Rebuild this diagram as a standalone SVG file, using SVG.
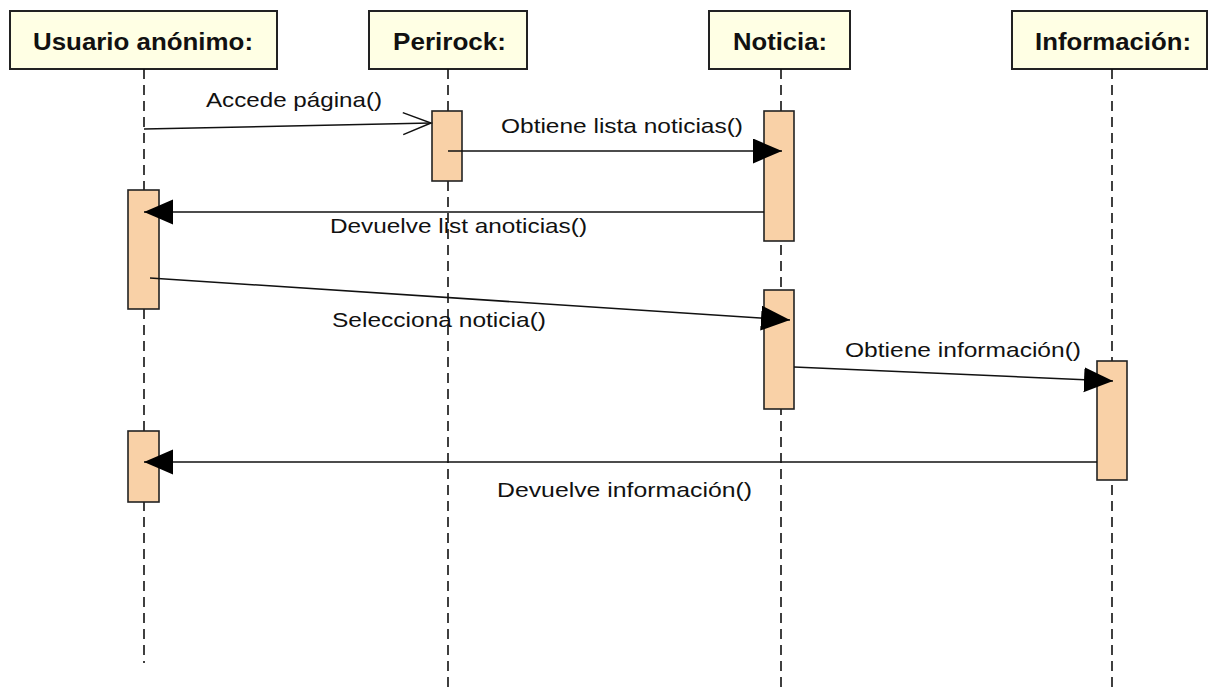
<svg xmlns="http://www.w3.org/2000/svg" width="1209" height="687" viewBox="0 0 1209 687">
<style>
.hdr{fill:#FFFFE4;stroke:#222;stroke-width:2}
.ht{font-family:"Liberation Sans",Arial,sans-serif;font-weight:bold;font-size:23px;fill:#111}
.life{stroke:#111;stroke-width:1.6;stroke-dasharray:10 6;fill:none}
.act{fill:#F9D1A7;stroke:#222;stroke-width:1.6}
.msg{stroke:#111;stroke-width:1.5;fill:none}
.lbl{font-family:"Liberation Sans",Arial,sans-serif;font-size:21px;fill:#111}
</style>
<defs>
<marker id="fill" markerUnits="userSpaceOnUse" markerWidth="30" markerHeight="26" refX="29" refY="12.5" orient="auto">
<path d="M0,0 L29,12.5 L0,25 Z" fill="#000"/>
</marker>
<marker id="open" markerUnits="userSpaceOnUse" markerWidth="32" markerHeight="28" refX="29" refY="12" orient="auto">
<path d="M1,1 L29,12 L1,23" fill="none" stroke="#111" stroke-width="1.5"/>
</marker>
</defs>
<rect width="1209" height="687" fill="#fff"/>

<g id="usuario">
<rect class="hdr" x="10" y="11" width="267" height="58"/>
<text class="ht" x="33" y="50" textLength="220" lengthAdjust="spacingAndGlyphs">Usuario anónimo:</text>
<line class="life" x1="144" y1="69" x2="144" y2="663"/>
<rect class="act" x="128" y="190" width="31" height="119"/>
<rect class="act" x="128" y="431" width="31" height="71"/>
</g>

<g id="perirock">
<rect class="hdr" x="369" y="11" width="158" height="58"/>
<text class="ht" x="393" y="50" textLength="113" lengthAdjust="spacingAndGlyphs">Perirock:</text>
<line class="life" x1="448" y1="69" x2="448" y2="687"/>
<rect class="act" x="432" y="111" width="30" height="70"/>
</g>

<g id="noticia">
<rect class="hdr" x="709" y="11" width="141" height="58"/>
<text class="ht" x="733" y="50" textLength="94" lengthAdjust="spacingAndGlyphs">Noticia:</text>
<line class="life" x1="781" y1="69" x2="781" y2="687"/>
<rect class="act" x="764" y="111" width="30" height="130"/>
<rect class="act" x="764" y="290" width="30" height="119"/>
</g>

<g id="informacion">
<rect class="hdr" x="1012" y="11" width="195" height="58"/>
<text class="ht" x="1035" y="50" textLength="156" lengthAdjust="spacingAndGlyphs">Información:</text>
<line class="life" x1="1112" y1="69" x2="1112" y2="687"/>
<rect class="act" x="1097" y="361" width="30" height="119"/>
</g>

<g id="connectors">
<line class="msg" x1="144" y1="129" x2="431" y2="123" marker-end="url(#open)"/>
<line class="msg" x1="448" y1="151" x2="782" y2="151" marker-end="url(#fill)"/>
<line class="msg" x1="764" y1="212" x2="144" y2="212" marker-end="url(#fill)"/>
<line class="msg" x1="150" y1="278" x2="790" y2="320" marker-end="url(#fill)"/>
<line class="msg" x1="794" y1="367" x2="1113" y2="381" marker-end="url(#fill)"/>
<line class="msg" x1="1097" y1="462" x2="144" y2="462" marker-end="url(#fill)"/>
<text class="lbl" x="206" y="107" textLength="176" lengthAdjust="spacingAndGlyphs">Accede página()</text>
<text class="lbl" x="501" y="133" textLength="242" lengthAdjust="spacingAndGlyphs">Obtiene lista noticias()</text>
<text class="lbl" x="330" y="233" textLength="257" lengthAdjust="spacingAndGlyphs">Devuelve list anoticias()</text>
<text class="lbl" x="332" y="327" textLength="214" lengthAdjust="spacingAndGlyphs">Selecciona noticia()</text>
<text class="lbl" x="845" y="357" textLength="236" lengthAdjust="spacingAndGlyphs">Obtiene información()</text>
<text class="lbl" x="497" y="497" textLength="255" lengthAdjust="spacingAndGlyphs">Devuelve información()</text>
</g>
</svg>
